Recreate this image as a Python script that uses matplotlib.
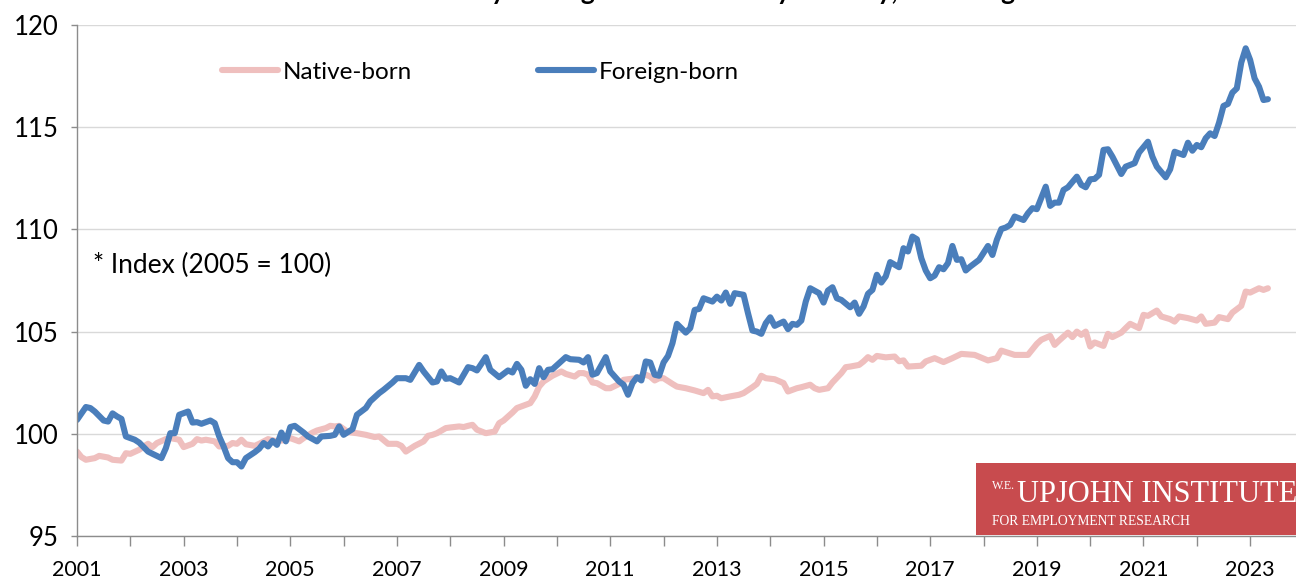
import numpy as np
import matplotlib
matplotlib.use("Agg")
import matplotlib.pyplot as plt
from matplotlib.patches import Rectangle

plt.rcParams["font.family"] = ["Lato", "DejaVu Sans"]

# months since Jan 2001 and index values (2005 = 100)
native_month = [
    0, 1, 2, 4, 5, 7, 8, 10, 11, 12, 14, 15, 16, 17, 18, 20, 21, 23, 24, 26,
    27, 28, 29, 31, 32, 34, 35, 36, 37, 38, 40, 41, 43, 45, 47, 48, 50, 51, 53, 54,
    56, 57, 58, 59, 61, 63, 65, 67, 68, 70, 72, 73, 74, 76, 78, 79, 80, 81, 83, 84,
    86, 87, 88, 89, 90, 92, 94, 95, 96, 98, 99, 101, 102, 103, 104, 105, 107, 109, 110, 112,
    113, 114, 115, 116, 117, 119, 120, 122, 123, 124, 126, 128, 129, 130, 131, 132, 134, 135, 137, 139,
    141, 142, 143, 144, 145, 147, 149, 150, 152, 153, 154, 155, 157, 159, 160, 162, 163, 165, 166, 167,
    169, 170, 172, 173, 174, 176, 177, 178, 179, 180, 182, 184, 185, 186, 187, 190, 191, 193, 195, 197,
    199, 202, 205, 207, 208, 211, 214, 216, 217, 219, 220, 221, 223, 224, 225, 226, 227, 228, 229, 231,
    232, 233, 235, 236, 237, 239, 240, 241, 243, 244, 246, 247, 248, 250, 252, 253, 254, 256, 257, 259,
    260, 262, 263, 264, 266, 267, 268,
]
native_index = [
    99.13, 98.86, 98.73, 98.81, 98.92, 98.84, 98.73, 98.69, 99.05, 99.02, 99.22, 99.38, 99.51, 99.35, 99.55, 99.74, 99.79, 99.71, 99.35, 99.51,
    99.74, 99.67, 99.71, 99.63, 99.38, 99.41, 99.55, 99.51, 99.71, 99.49, 99.41, 99.51, 99.74, 99.63, 99.71, 99.79, 99.63, 99.79, 100.06, 100.16,
    100.28, 100.39, 100.36, 100.39, 100.08, 100.03, 99.95, 99.84, 99.87, 99.51, 99.51, 99.41, 99.13, 99.41, 99.63, 99.90, 99.95, 100.03, 100.28, 100.31,
    100.36, 100.33, 100.39, 100.44, 100.20, 100.03, 100.11, 100.52, 100.65, 101.04, 101.26, 101.42, 101.50, 101.83, 102.31, 102.56, 102.84, 103.05, 102.93, 102.80,
    102.97, 102.97, 102.89, 102.51, 102.48, 102.23, 102.23, 102.44, 102.64, 102.67, 102.72, 102.89, 102.80, 102.61, 102.72, 102.72, 102.44, 102.31, 102.23, 102.12,
    101.99, 102.15, 101.83, 101.86, 101.74, 101.83, 101.91, 101.99, 102.28, 102.44, 102.84, 102.72, 102.67, 102.48, 102.07, 102.23, 102.28, 102.40, 102.23, 102.15,
    102.23, 102.51, 102.97, 103.26, 103.29, 103.37, 103.54, 103.75, 103.62, 103.81, 103.74, 103.78, 103.55, 103.59, 103.29, 103.33, 103.54, 103.70, 103.51, 103.70,
    103.91, 103.86, 103.59, 103.70, 104.07, 103.86, 103.86, 104.40, 104.60, 104.79, 104.35, 104.56, 104.95, 104.73, 105.00, 104.84, 105.00, 104.27, 104.47, 104.30,
    104.89, 104.73, 104.95, 105.17, 105.38, 105.17, 105.82, 105.77, 106.03, 105.74, 105.61, 105.49, 105.74, 105.66, 105.54, 105.74, 105.38, 105.44, 105.71, 105.61,
    105.93, 106.26, 106.96, 106.91, 107.12, 107.04, 107.12,
]

foreign_month = [
    0, 2, 3, 4, 6, 7, 8, 9, 10, 11, 13, 14, 16, 17, 19, 20, 21, 22, 23, 25,
    26, 27, 28, 30, 31, 32, 33, 34, 35, 36, 37, 38, 40, 41, 42, 43, 44, 45, 46, 47,
    48, 49, 51, 52, 54, 55, 57, 58, 59, 60, 62, 63, 65, 66, 68, 69, 71, 72, 74, 75,
    77, 78, 80, 81, 82, 83, 84, 86, 87, 88, 89, 90, 92, 93, 95, 97, 98, 99, 100, 101,
    102, 103, 104, 105, 106, 107, 110, 111, 113, 114, 115, 116, 117, 119, 120, 122, 123, 124, 125, 126,
    127, 128, 129, 130, 131, 132, 133, 134, 135, 137, 138, 139, 140, 141, 143, 144, 145, 146, 147, 148,
    150, 151, 152, 153, 154, 155, 156, 157, 159, 160, 161, 162, 163, 164, 165, 167, 168, 169, 170, 171,
    172, 174, 175, 176, 177, 178, 179, 180, 181, 182, 183, 185, 186, 187, 188, 189, 190, 191, 192, 193,
    194, 195, 196, 197, 198, 199, 200, 201, 203, 205, 206, 207, 208, 209, 210, 211, 213, 214, 215, 216,
    218, 219, 220, 221, 222, 223, 225, 226, 227, 228, 229, 230, 231, 232, 233, 235, 236, 238, 239, 241,
    242, 243, 245, 246, 247, 249, 250, 251, 252, 253, 254, 255, 256, 257, 258, 259, 260, 261, 262, 263,
    264, 265, 266, 267, 268,
]
foreign_index = [
    100.68, 101.31, 101.26, 101.09, 100.65, 100.60, 101.00, 100.85, 100.73, 99.87, 99.71, 99.57, 99.13, 99.02, 98.81, 99.30, 100.03, 100.03, 100.93, 101.09,
    100.55, 100.57, 100.49, 100.65, 100.52, 99.87, 99.38, 98.81, 98.61, 98.61, 98.40, 98.81, 99.10, 99.27, 99.55, 99.38, 99.66, 99.46, 100.06, 99.63,
    100.33, 100.39, 100.06, 99.87, 99.63, 99.87, 99.90, 99.95, 100.36, 99.95, 100.23, 100.93, 101.26, 101.59, 101.99, 102.15, 102.51, 102.72, 102.72, 102.64,
    103.37, 103.05, 102.51, 102.56, 103.05, 102.69, 102.72, 102.51, 102.89, 103.26, 103.21, 103.10, 103.75, 103.13, 102.77, 103.10, 103.00, 103.42, 103.13, 102.35,
    102.67, 102.44, 103.21, 102.77, 103.13, 103.16, 103.75, 103.65, 103.62, 103.49, 103.75, 102.89, 102.97, 103.75, 103.05, 102.56, 102.40, 101.91, 102.48, 102.77,
    102.61, 103.54, 103.49, 102.89, 102.84, 103.49, 103.81, 104.43, 105.38, 104.95, 105.17, 106.06, 106.11, 106.63, 106.47, 106.71, 106.52, 106.91, 106.36, 106.88,
    106.80, 105.90, 105.05, 105.00, 104.89, 105.41, 105.70, 105.28, 105.49, 105.12, 105.38, 105.33, 105.54, 106.47, 107.12, 106.88, 106.42, 107.01, 107.17, 106.63,
    106.55, 106.19, 106.42, 105.87, 106.23, 106.85, 107.04, 107.78, 107.40, 107.70, 108.40, 108.15, 109.08, 108.92, 109.65, 109.52, 108.59, 107.99, 107.61, 107.74,
    108.15, 108.05, 108.35, 109.19, 108.51, 108.54, 107.99, 108.18, 108.51, 109.19, 108.75, 109.49, 110.02, 110.09, 110.22, 110.63, 110.46, 110.79, 111.04, 110.99,
    112.09, 111.15, 111.31, 111.31, 111.93, 112.06, 112.58, 112.18, 112.06, 112.45, 112.47, 112.67, 113.89, 113.92, 113.56, 112.71, 113.07, 113.24, 113.76, 114.29,
    113.56, 113.07, 112.55, 112.94, 113.80, 113.64, 114.24, 113.85, 114.13, 114.02, 114.46, 114.70, 114.57, 115.22, 116.04, 116.14, 116.69, 116.90, 118.16, 118.86,
    118.29, 117.39, 116.98, 116.33, 116.37,
]

series_labels = ["Native-born", "Foreign-born"]
year_ticks = list(range(2001, 2024))
y_ticks = [95, 100, 105, 110, 115, 120]
title_text = "Monthly Average Labor Force by Nativity, Prime-Age"
note_text = "* Index (2005 = 100)"

native_x = 2001 + np.array(native_month) / 12.0
foreign_x = 2001 + np.array(foreign_month) / 12.0

fig = plt.figure(figsize=(12.96, 5.8), dpi=100)
ax = fig.add_axes([77 / 1296, 1 - 536 / 580, 1 - 77 / 1296, (536 - 25) / 580])

ax.plot(native_x, native_index, color="#EFBFBE", lw=4.4,
        solid_joinstyle="round", solid_capstyle="round", label=series_labels[0])
ax.plot(foreign_x, foreign_index, color="#4A7EBB", lw=4.4,
        solid_joinstyle="round", solid_capstyle="round", label=series_labels[1])

ax.set_xlim(2001, 2023.86)
ax.set_ylim(95, 120)

ax.set_yticks(y_ticks)
ax.set_xticks(year_ticks)
ax.set_xticklabels([str(y) if (y - 2001) % 2 == 0 else "" for y in year_ticks])

ax.grid(axis="y", color="#D9D9D9", lw=1.0)
ax.set_axisbelow(True)

for side in ["top", "right"]:
    ax.spines[side].set_visible(False)
for side in ["left", "bottom"]:
    ax.spines[side].set_color("#8C8C8C")
    ax.spines[side].set_linewidth(1.0)

ax.tick_params(axis="y", direction="out", length=4, width=1.0, color="#8C8C8C",
               pad=9, labelsize=18.5, labelcolor="black")
ax.tick_params(axis="x", direction="out", length=7, width=1.0, color="#8C8C8C",
               pad=10, labelsize=15.5, labelcolor="black")

ax.legend(loc="center left", bbox_to_anchor=(0.119, 0.908), ncol=2,
          frameon=False, fontsize=17.5, handlelength=2.3, handletextpad=0.2,
          columnspacing=5.2, borderpad=0, borderaxespad=0)

ax.text(0.013, 0.53, note_text, transform=ax.transAxes, fontsize=19,
        ha="left", va="center")

# title sits mostly above the top edge, as in the cropped original
fig.text(405 / 1296, 1.0, title_text, fontsize=19, fontweight="bold",
         ha="left", va="baseline")

# institute logo box in the lower right
logo = Rectangle((976 / 1296, 1 - 535 / 580), 320 / 1296, 72 / 580,
                 transform=fig.transFigure, facecolor="#C84B4E",
                 edgecolor="none", zorder=5)
fig.patches.append(logo)
fig.text(992 / 1296, 1 - 489 / 580, "W.E.", family="Liberation Serif",
         fontsize=8.5, color="white", ha="left", va="baseline", zorder=6)
fig.text(1017 / 1296, 1 - 502 / 580, "UPJOHN INSTITUTE", family="Liberation Serif",
         fontsize=22, color="white", ha="left", va="baseline", zorder=6)
fig.text(992 / 1296, 1 - 525 / 580, "FOR EMPLOYMENT RESEARCH", family="Liberation Serif",
         fontsize=9.8, color="white", ha="left", va="baseline", zorder=6)

fig.savefig("out.png", dpi=100)
